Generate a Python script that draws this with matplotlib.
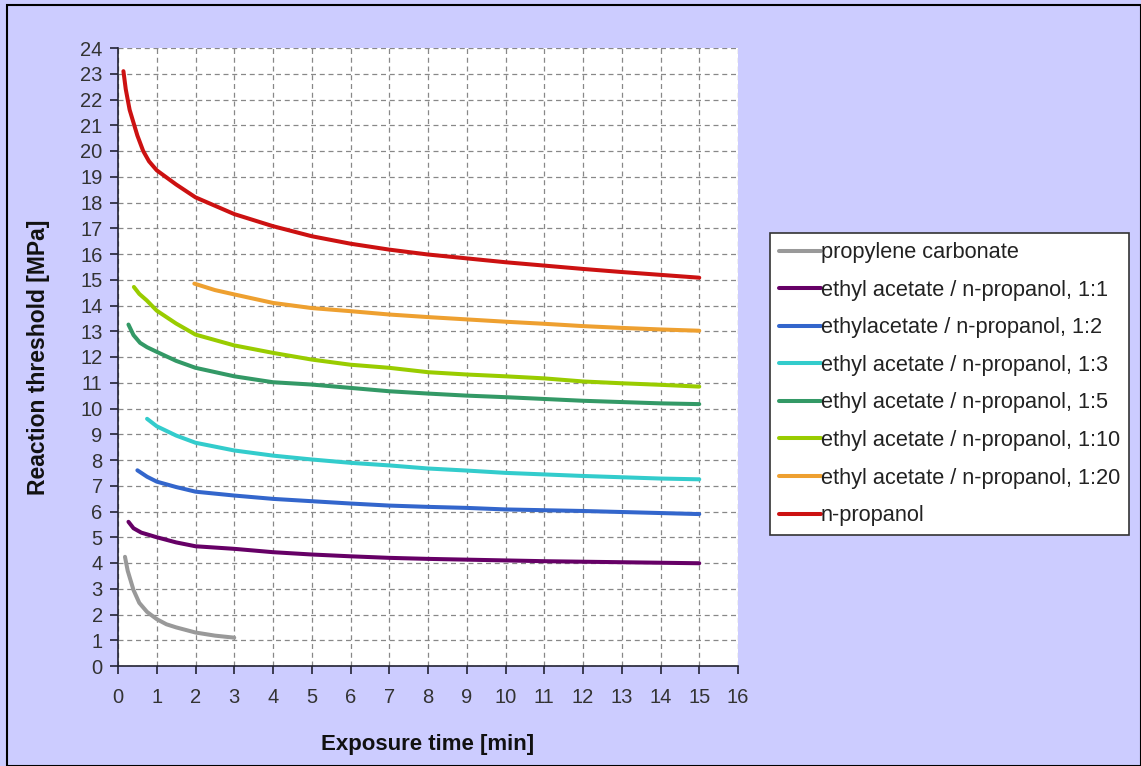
import matplotlib.pyplot as plt
import matplotlib.patches as mpatches

plt.rcParams['font.family'] = ['Liberation Sans', 'DejaVu Sans']

# series (exposure time [min], threshold [MPa])
pc_t = [0.18, 0.25, 0.4, 0.55, 0.75, 1.0, 1.25, 1.5, 2.0, 2.5, 3.0]
pc_v = [4.24, 3.7, 2.95, 2.45, 2.1, 1.82, 1.62, 1.5, 1.3, 1.18, 1.1]

ea11_t = [0.27, 0.4, 0.6, 1, 1.5, 2, 3, 4, 5, 6, 7, 8, 9, 10, 11, 12, 13, 14, 15]
ea11_v = [5.6, 5.35, 5.18, 5.0, 4.8, 4.65, 4.55, 4.42, 4.33, 4.26, 4.2, 4.16, 4.13, 4.1, 4.07, 4.05, 4.03, 4.01, 3.99]

ea12_t = [0.5, 0.75, 1, 1.5, 2, 3, 4, 5, 6, 7, 8, 9, 10, 11, 12, 13, 14, 15]
ea12_v = [7.6, 7.35, 7.16, 6.95, 6.77, 6.62, 6.49, 6.4, 6.31, 6.23, 6.18, 6.14, 6.08, 6.05, 6.02, 5.98, 5.94, 5.9]

ea13_t = [0.75, 1, 1.5, 2, 3, 4, 5, 6, 7, 8, 9, 10, 11, 12, 13, 14, 15]
ea13_v = [9.6, 9.31, 8.95, 8.67, 8.37, 8.17, 8.02, 7.89, 7.79, 7.67, 7.59, 7.5, 7.44, 7.38, 7.33, 7.28, 7.25]

ea15_t = [0.27, 0.4, 0.57, 0.75, 1, 1.5, 2, 3, 4, 5, 6, 7, 8, 9, 10, 11, 12, 13, 14, 15]
ea15_v = [13.26, 12.85, 12.55, 12.38, 12.2, 11.85, 11.58, 11.25, 11.02, 10.93, 10.8, 10.67, 10.58, 10.5, 10.44, 10.37, 10.3, 10.25, 10.2, 10.17]

ea110_t = [0.41, 0.55, 0.74, 1, 1.5, 2, 3, 4, 5, 6, 7, 8, 9, 10, 11, 12, 13, 14, 15]
ea110_v = [14.72, 14.45, 14.2, 13.8, 13.3, 12.87, 12.45, 12.16, 11.9, 11.7, 11.58, 11.41, 11.32, 11.25, 11.17, 11.05, 10.98, 10.92, 10.85]

ea120_t = [1.97, 2.5, 3, 4, 5, 6, 7, 8, 9, 10, 11, 12, 13, 14, 15]
ea120_v = [14.85, 14.6, 14.43, 14.1, 13.9, 13.78, 13.65, 13.55, 13.46, 13.37, 13.29, 13.2, 13.13, 13.07, 13.02]

np_t = [0.14, 0.2, 0.3, 0.4, 0.5, 0.65, 0.8, 1, 1.5, 2, 3, 4, 5, 6, 7, 8, 9, 10, 11, 12, 13, 14, 15]
np_v = [23.1, 22.4, 21.6, 21.1, 20.6, 20.0, 19.6, 19.25, 18.7, 18.2, 17.55, 17.08, 16.69, 16.4, 16.17, 15.98, 15.83, 15.68, 15.55, 15.42, 15.3, 15.19, 15.08]

series = [
    (pc_t, pc_v, 'propylene carbonate', '#999999'),
    (ea11_t, ea11_v, 'ethyl acetate / n-propanol, 1:1', '#660066'),
    (ea12_t, ea12_v, 'ethylacetate / n-propanol, 1:2', '#3366cc'),
    (ea13_t, ea13_v, 'ethyl acetate / n-propanol, 1:3', '#33cccc'),
    (ea15_t, ea15_v, 'ethyl acetate / n-propanol, 1:5', '#339966'),
    (ea110_t, ea110_v, 'ethyl acetate / n-propanol, 1:10', '#99cc00'),
    (ea120_t, ea120_v, 'ethyl acetate / n-propanol, 1:20', '#eea030'),
    (np_t, np_v, 'n-propanol', '#cc1111'),
]

fig = plt.figure(figsize=(11.41, 7.66), dpi=100, facecolor='#ccccff')
fig.patches.append(mpatches.Rectangle((0.006, 0.0), 0.994, 0.993, transform=fig.transFigure,
                                      fill=False, edgecolor='black', linewidth=1.5))
ax = fig.add_axes([118 / 1141, 100 / 766, 620 / 1141, 618 / 766])
ax.set_facecolor('white')

for t, v, name, col in series:
    ax.plot(t, v, color=col, lw=2.9, label=name, solid_capstyle='round', solid_joinstyle='round')

ax.set_xlim(0, 16)
ax.set_ylim(0, 24)
ax.set_xticks(range(0, 17))
ax.set_yticks(range(0, 25))
ax.grid(True, color='#888888', linestyle=(0, (4, 3)), linewidth=0.9)
ax.set_axisbelow(True)
for s in ['top', 'right']:
    ax.spines[s].set_visible(False)
for s in ['left', 'bottom']:
    ax.spines[s].set_color('#222233')
    ax.spines[s].set_linewidth(1.2)
ax.tick_params(direction='out', length=6, width=1.2, color='#222233', labelsize=14.5, labelcolor='#333333')
ax.tick_params(axis='x', pad=10)
ax.tick_params(axis='y', pad=5)

ax.set_xlabel('Exposure time [min]', fontsize=16, fontweight='bold', labelpad=19, color='#111111')
ax.set_ylabel('Reaction threshold [MPa]', fontsize=16.5, fontweight='bold', labelpad=22, color='#111111')

leg = ax.legend(loc='upper left', bbox_to_anchor=(770 / 1141, 1 - 233 / 766),
                bbox_transform=fig.transFigure, borderaxespad=0, fontsize=15.7,
                handlelength=1.9, handletextpad=0.0, labelspacing=0.76, borderpad=0.42,
                fancybox=False, framealpha=1, edgecolor='#333333')
leg.get_frame().set_linewidth(1.2)
for txt in leg.get_texts():
    txt.set_color('#222222')

fig.savefig('out.png', dpi=100, facecolor=fig.get_facecolor())
